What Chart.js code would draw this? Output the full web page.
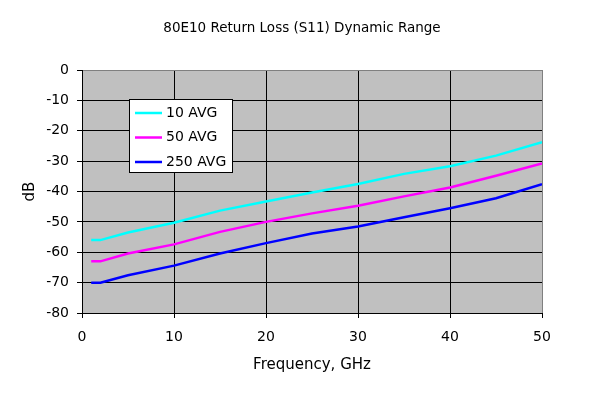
<!DOCTYPE html>
<html>
<head>
<meta charset="utf-8">
<script src="https://cdn.jsdelivr.net/npm/chart.js@4"></script>
<style>
  html, body { margin: 0; padding: 0; background: #fff; }
  #chart { display: block; }
</style>
</head>
<body>
<canvas id="chart" width="600" height="396"></canvas>
<script>
const FREQ = [1, 2, 5, 10, 15, 20, 25, 30, 35, 40, 45, 50];
const AVG_10 = [-56, -56, -53.5, -50.3, -46.3, -43.3, -40.3, -37.5, -34.2, -31.7, -28.2, -23.8];
const AVG_50 = [-63, -63, -60.4, -57.4, -53.3, -50, -47.2, -44.7, -41.6, -38.7, -34.8, -30.8];
const AVG_250 = [-70, -70, -67.6, -64.4, -60.4, -57, -53.8, -51.5, -48.5, -45.5, -42.2, -37.6];
const SERIES_NAMES = ['10 AVG', '50 AVG', '250 AVG'];
const SERIES_COLORS = ['#00FFFF', '#FF00FF', '#0000FF'];
const TITLE = '80E10 Return Loss (S11) Dynamic Range';

const FONT = '"DejaVu Sans", Verdana, sans-serif';

const toPoints = (ys) => FREQ.map((x, i) => ({x: x, y: ys[i]}));

// gray plot background
const plotBackground = {
    id: 'plotBackground',
    beforeDraw(chart) {
        const {ctx, chartArea: a} = chart;
        ctx.save();
        ctx.fillStyle = '#C0C0C0';
        ctx.fillRect(a.left, a.top, a.right - a.left, a.bottom - a.top);
        ctx.restore();
    }
};

// title centred on the whole canvas, not on the layout box
const canvasTitle = {
    id: 'canvasTitle',
    afterDraw(chart) {
        const ctx = chart.ctx;
        ctx.save();
        ctx.font = '13.5px ' + FONT;
        ctx.fillStyle = '#000';
        ctx.textAlign = 'center';
        ctx.textBaseline = 'middle';
        ctx.fillText(TITLE, 302, 28);
        ctx.restore();
    }
};

// boxed legend inside the plot
const boxLegend = {
    id: 'boxLegend',
    afterDatasetsDraw(chart) {
        const {ctx, chartArea: a} = chart;
        const x = a.left + 47, y = a.top + 29, w = 103, h = 73;
        ctx.save();
        ctx.fillStyle = '#fff';
        ctx.fillRect(x, y, w, h);
        ctx.strokeStyle = '#000';
        ctx.lineWidth = 1;
        ctx.strokeRect(x + 0.5, y + 0.5, w, h);
        ctx.font = '14px ' + FONT;
        ctx.textBaseline = 'middle';
        chart.data.datasets.forEach((ds, i) => {
            const rowY = y + 14 + i * 24.5;
            ctx.strokeStyle = ds.borderColor;
            ctx.lineWidth = 2.5;
            ctx.beginPath();
            ctx.moveTo(x + 6, rowY);
            ctx.lineTo(x + 33, rowY);
            ctx.stroke();
            ctx.fillStyle = '#000';
            ctx.fillText(ds.label, x + 37, rowY);
        });
        ctx.restore();
    }
};

new Chart(document.getElementById('chart'), {
    type: 'line',
    data: {
        datasets: SERIES_NAMES.map((name, i) => ({
            label: name,
            data: toPoints([AVG_10, AVG_50, AVG_250][i]),
            borderColor: SERIES_COLORS[i],
            borderWidth: 2.5,
            pointRadius: 0,
            tension: 0,
            fill: false,
        }))
    },
    options: {
        responsive: false,
        animation: false,
        layout: {padding: {left: 10, right: 58, top: 70, bottom: 0}},
        plugins: {
            legend: {display: false},
            tooltip: {enabled: false},
            title: {display: false},
        },
        scales: {
            x: {
                type: 'linear',
                min: 0,
                max: 50,
                ticks: {stepSize: 10, color: '#000', padding: 11, font: {family: FONT, size: 14}},
                grid: {
                    color: (c) => c.tick && c.tick.value === 50 ? '#808080' : '#000',
                    tickColor: '#000',
                    tickLength: 5,
                },
                border: {color: '#000', width: 1},
                title: {
                    display: true,
                    text: 'Frequency, GHz',
                    color: '#000',
                    font: {family: FONT, size: 15},
                    padding: {top: 0, bottom: 22},
                },
                afterFit(scale) { scale.height = 83; },
            },
            y: {
                min: -80,
                max: 0,
                ticks: {stepSize: 10, color: '#000', padding: 8, font: {family: FONT, size: 14}},
                grid: {
                    color: (c) => c.tick && c.tick.value === 0 ? '#808080' : '#000',
                    tickColor: '#000',
                    tickLength: 5,
                },
                border: {color: '#000', width: 1},
                title: {
                    display: true,
                    text: 'dB',
                    color: '#000',
                    font: {family: FONT, size: 15},
                    padding: {top: 11, bottom: 0},
                },
                afterFit(scale) { scale.width = 72; },
            },
        },
    },
    plugins: [plotBackground, canvasTitle, boxLegend],
});
</script>
</body>
</html>
